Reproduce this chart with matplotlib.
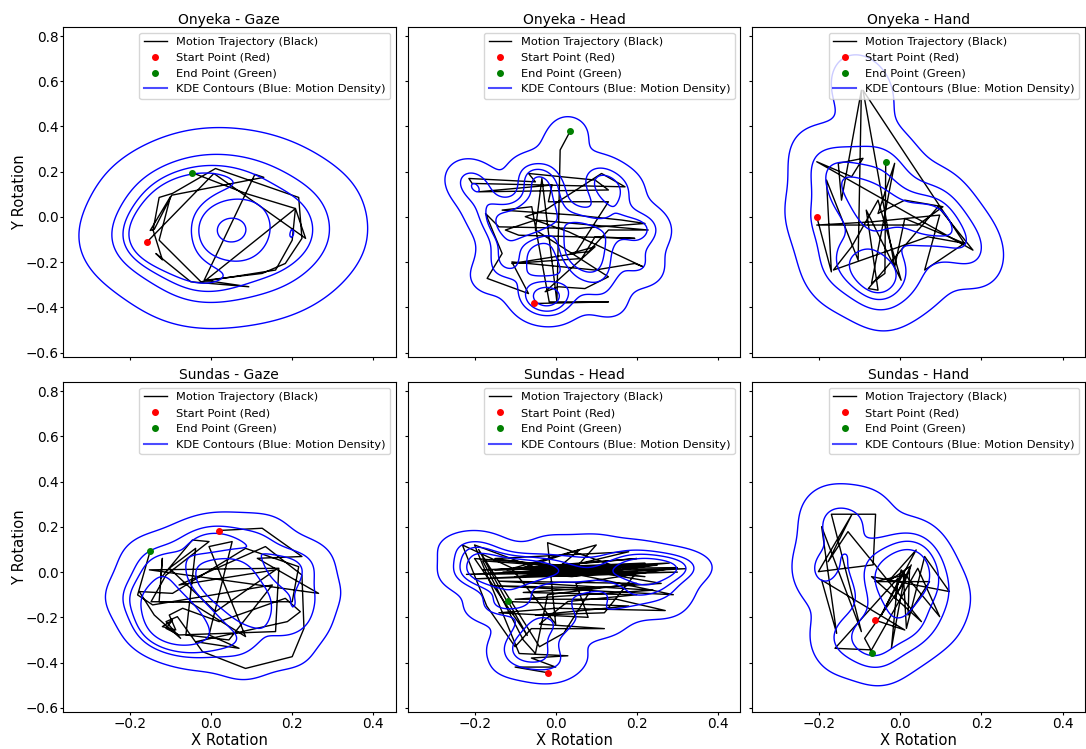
import numpy as np
import matplotlib
matplotlib.use("Agg")
import matplotlib.pyplot as plt
from matplotlib.lines import Line2D
import seaborn as sns

participants = ["Onyeka", "Sundas"]
modalities = ["Gaze", "Head", "Hand"]

# Rotation trajectories (x, y) for each participant / modality
onyeka_gaze_x = [-0.159, 0.007, 0.233, 0.208, 0.200, 0.159, -0.025, -0.128, -0.100, -0.150,
                 -0.140, -0.097, 0.130, 0.108, -0.017, 0.093, -0.050, -0.136, -0.120, -0.143,
                 -0.128, -0.095, 0.011, 0.216, 0.224, 0.183, 0.126, -0.013, 0.208, 0.085,
                 -0.046]
onyeka_gaze_y = [-0.113, 0.192, -0.095, 0.037, -0.103, -0.235, -0.287, -0.103, 0.090, -0.060,
                 -0.055, 0.096, 0.175, 0.188, -0.280, -0.309, -0.287, -0.162, -0.190, -0.058,
                 0.086, 0.104, 0.214, 0.086, -0.095, -0.206, -0.250, -0.280, 0.037, 0.104,
                 0.195]

onyeka_head_x = [-0.054, 0.130, -0.016, -0.059, -0.132, 0.048, 0.163, 0.220, 0.056, -0.140,
                 -0.173, -0.132, -0.169, -0.067, -0.108, 0.097, 0.195, 0.216, 0.032, -0.075,
                 -0.026, 0.113, 0.171, -0.206, -0.214, -0.050, -0.067, 0.097, 0.130, -0.190,
                 -0.009, -0.018, 0.130, 0.048, -0.108, 0.064, 0.097, 0.195, -0.091, -0.124,
                 -0.050, 0.228, 0.130, 0.081, 0.036, 0.097, -0.026, 0.007, 0.072, 0.130,
                 -0.050, -0.034, 0.003, 0.011, 0.036]
onyeka_head_y = [-0.383, -0.376, -0.376, 0.045, 0.030, 0.008, -0.014, -0.029, -0.051, -0.044,
                 0.015, -0.162, -0.272, -0.339, -0.199, -0.235, -0.206, -0.221, -0.066, 0.001,
                 0.030, 0.192, 0.133, 0.148, 0.170, 0.155, 0.192, 0.163, 0.119, 0.111,
                 0.141, 0.067, 0.067, -0.162, -0.206, -0.184, -0.088, -0.095, -0.081, -0.058,
                 -0.014, -0.058, -0.058, -0.154, -0.162, -0.132, -0.331, -0.309, -0.317, -0.265,
                 -0.058, 0.170, -0.376, 0.296, 0.380]

onyeka_hand_x = [-0.206, -0.170, -0.182, -0.104, -0.096, -0.145, -0.153, -0.092, -0.120, -0.206,
                 0.179, 0.093, -0.079, -0.055, -0.084, 0.002, -0.055, -0.120, -0.165, 0.068,
                 0.158, 0.011, -0.014, -0.092, 0.158, 0.060, 0.097, -0.071, -0.206, 0.043,
                 0.105, 0.011, -0.055, -0.014, -0.071, -0.038, -0.036]
onyeka_hand_y = [0.001, -0.243, 0.163, -0.191, 0.560, 0.074, 0.237, 0.259, 0.178, 0.244,
                 -0.147, 0.045, -0.317, -0.324, 0.030, -0.280, 0.074, -0.132, -0.235, -0.088,
                 -0.117, -0.007, -0.221, 0.560, -0.117, -0.235, 0.008, -0.022, -0.036, -0.036,
                 0.045, 0.074, 0.015, 0.237, -0.294, -0.250, 0.244]

sundas_gaze_x = [0.020, 0.126, 0.224, 0.114, 0.265, -0.152, 0.167, 0.159, -0.079, -0.111,
                 -0.095, -0.120, -0.087, -0.103, -0.070, 0.020, 0.183, 0.220, 0.188, -0.038,
                 0.069, -0.005, 0.052, -0.005, 0.085, -0.054, -0.148, -0.111, -0.005, -0.046,
                 -0.124, -0.120, -0.128, 0.200, 0.216, 0.085, -0.095, -0.177, -0.140, -0.103,
                 -0.075, -0.111, -0.083, -0.021, 0.085, 0.200, 0.229, 0.224, 0.134, -0.079,
                 0.159, 0.011, -0.103, -0.038, -0.062, 0.044, 0.151, -0.144, -0.181, -0.150]
sundas_gaze_y = [0.184, 0.194, 0.069, 0.061, -0.094, 0.010, 0.017, -0.263, -0.278, -0.249,
                 -0.212, -0.241, -0.256, -0.190, -0.160, -0.219, -0.116, -0.175, -0.219, -0.308,
                 -0.337, -0.278, 0.135, 0.113, -0.285, -0.131, -0.131, -0.013, 0.135, 0.142,
                 -0.027, 0.061, -0.131, -0.131, 0.024, 0.105, -0.094, -0.086, -0.190, -0.249,
                 -0.293, -0.219, -0.197, -0.352, -0.426, -0.374, -0.249, -0.013, 0.113, -0.057,
                 0.010, -0.175, 0.017, 0.105, -0.278, -0.300, -0.057, -0.145, -0.101, 0.094]

sundas_head_x = [-0.019, -0.100, 0.000, -0.060, 0.030, -0.090, -0.200, -0.050, 0.200, -0.150,
                 0.250, -0.220, 0.300, -0.100, 0.280, -0.120, 0.100, 0.050, -0.180, -0.080,
                 -0.050, -0.020, 0.200, -0.140, 0.240, -0.100, 0.150, 0.270, 0.000, -0.140,
                 0.080, 0.050, 0.300, -0.180, 0.220, -0.060, 0.150, -0.200, 0.320, -0.100,
                 0.140, -0.020, 0.000, -0.110, -0.230, -0.210, -0.170, -0.100, -0.060, 0.120,
                 -0.040, 0.030, 0.200, -0.080, 0.260, 0.100, -0.150, 0.180, -0.030, 0.240,
                 0.040, -0.130, 0.200, 0.120, -0.050, 0.180, -0.120, -0.190, -0.040, 0.020,
                 0.090, -0.160, 0.290, 0.000, 0.060, -0.080, 0.220, -0.020, 0.160, -0.200,
                 -0.070, -0.118]
sundas_head_y = [-0.445, -0.420, -0.420, -0.380, -0.370, -0.360, 0.120, 0.020, 0.060, 0.010,
                 0.030, -0.010, 0.000, -0.020, 0.040, 0.010, 0.120, 0.020, 0.050, -0.300,
                 -0.360, -0.100, -0.050, -0.040, -0.080, -0.120, -0.120, -0.170, -0.160, -0.180,
                 -0.200, -0.050, 0.020, 0.010, 0.040, 0.000, -0.010, -0.030, 0.015, 0.000,
                 0.030, 0.130, -0.230, 0.020, 0.120, 0.030, -0.150, -0.330, -0.250, -0.250,
                 -0.230, -0.130, -0.100, -0.090, -0.050, 0.000, 0.060, 0.090, 0.000, 0.030,
                 -0.020, 0.000, 0.000, -0.180, -0.190, -0.150, -0.130, 0.100, -0.330, -0.270,
                 -0.070, -0.060, -0.100, 0.010, 0.100, 0.020, -0.020, 0.030, 0.010, 0.060,
                 -0.280, -0.128]

sundas_hand_x = [-0.063, 0.011, -0.194, -0.157, -0.194, -0.096, -0.170, -0.061, -0.067, -0.202,
                 -0.120, -0.178, -0.129, 0.052, -0.071, 0.121, 0.060, 0.015, 0.007, -0.047,
                 0.039, -0.030, 0.023, 0.019, 0.072, -0.063, 0.011, -0.022, -0.006, -0.161,
                 -0.071, 0.043, 0.097, 0.002, -0.014, 0.027, 0.011, -0.088, -0.069]
sundas_hand_y = [-0.212, -0.256, -0.035, -0.271, 0.201, -0.263, 0.256, 0.256, 0.032, 0.002,
                 0.253, 0.046, 0.179, -0.219, -0.020, -0.086, 0.069, -0.249, 0.002, -0.190,
                 0.098, -0.042, 0.024, -0.190, -0.042, -0.042, -0.013, -0.337, -0.027, -0.337,
                 -0.344, 0.017, -0.197, 0.010, -0.116, 0.032, -0.042, -0.293, -0.356]

trajectories = {
    ("Onyeka", "Gaze"): (onyeka_gaze_x, onyeka_gaze_y),
    ("Onyeka", "Head"): (onyeka_head_x, onyeka_head_y),
    ("Onyeka", "Hand"): (onyeka_hand_x, onyeka_hand_y),
    ("Sundas", "Gaze"): (sundas_gaze_x, sundas_gaze_y),
    ("Sundas", "Head"): (sundas_head_x, sundas_head_y),
    ("Sundas", "Hand"): (sundas_hand_x, sundas_hand_y),
}

# KDE bandwidth scaling per panel
kde_bw_adjust = {
    ("Onyeka", "Gaze"): 1.15, ("Onyeka", "Head"): 0.65, ("Onyeka", "Hand"): 0.85,
    ("Sundas", "Gaze"): 0.8, ("Sundas", "Head"): 0.65, ("Sundas", "Hand"): 0.95,
}

fig, axes = plt.subplots(2, 3, figsize=(10.86, 7.49), dpi=100, sharex=True, sharey=True)
fig.subplots_adjust(left=0.058, right=0.999, top=0.964, bottom=0.049,
                    wspace=0.036, hspace=0.076)

legend_handles = [
    Line2D([], [], color="black", lw=1, label="Motion Trajectory (Black)"),
    Line2D([], [], color="red", marker="o", ls="none", ms=4, label="Start Point (Red)"),
    Line2D([], [], color="green", marker="o", ls="none", ms=4, label="End Point (Green)"),
    Line2D([], [], color="blue", lw=1.5, alpha=0.7, label="KDE Contours (Blue: Motion Density)"),
]

for r, person in enumerate(participants):
    for c, mod in enumerate(modalities):
        ax = axes[r, c]
        xs, ys = trajectories[(person, mod)]
        ax.plot(xs, ys, color="black", lw=1, zorder=2)
        sns.kdeplot(x=np.array(xs), y=np.array(ys), ax=ax, levels=5,
                    bw_adjust=kde_bw_adjust[(person, mod)],
                    color="blue", linewidths=1, zorder=3)
        ax.plot(xs[0], ys[0], "o", color="red", ms=4, zorder=4)
        ax.plot(xs[-1], ys[-1], "o", color="green", ms=4, zorder=4)
        ax.set_title(f"{person} - {mod}", fontsize=10, pad=2)
        ax.legend(handles=legend_handles, loc="upper right", fontsize=8.2)
        ax.tick_params(labelsize=9.8, length=1.95, pad=1.2)
        ax.set_xlabel("")
        ax.set_ylabel("")
        if r == 1:
            ax.set_xlabel("X Rotation", fontsize=10.6)
            ax.xaxis.set_label_coords(0.5, -0.062)
        if c == 0:
            ax.set_ylabel("Y Rotation", fontsize=10.6)
            ax.yaxis.set_label_coords(-0.107, 0.5)

axes[0, 0].set_xlim(-0.365, 0.455)
axes[0, 0].set_ylim(-0.62, 0.84)

fig.savefig("out.png", dpi=100)
